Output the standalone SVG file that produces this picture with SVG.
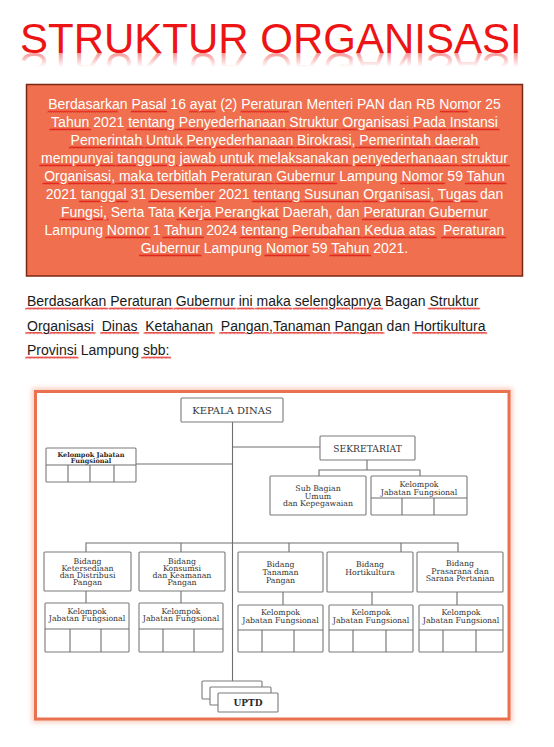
<svg xmlns="http://www.w3.org/2000/svg" width="554" height="747" viewBox="0 0 554 747">
<style>
.title{font-family:"Liberation Sans",Arial,sans-serif;font-size:42px;fill:#ec1414}
.intro{font-family:"Liberation Sans",Arial,sans-serif;font-size:14px;fill:#ffffff;text-anchor:middle}
.para{font-family:"Liberation Sans",Arial,sans-serif;font-size:14px;fill:#1a1a1a}
.sp{text-decoration:underline;fill:url(#wv1);stroke:url(#wv1);stroke-width:3.5}
.sq{text-decoration:underline;fill:url(#wv2);stroke:url(#wv2);stroke-width:3.5}
.w{fill:#ffffff;stroke:none}
.k{fill:#1a1a1a;stroke:none}
.box{fill:#ffffff;stroke:#7a7a7a;stroke-width:1.1}
.ln{fill:none;stroke:#6e6e6e;stroke-width:1.1}
.t{font-family:"DejaVu Serif","Liberation Serif",serif;font-size:7.8px;fill:#333333;text-anchor:middle}
.tb{font-family:"DejaVu Serif","Liberation Serif",serif;font-weight:bold;fill:#2a2a2a;text-anchor:middle}
.big{font-family:"DejaVu Serif","Liberation Serif",serif;fill:#333333;text-anchor:middle}
.wave{fill:none;stroke:#e0201a;stroke-width:0.9}
</style>
<defs>
<linearGradient id="refl" gradientUnits="userSpaceOnUse" x1="0" y1="39" x2="0" y2="53">
<stop offset="0" stop-color="#ec1414" stop-opacity="0"/>
<stop offset="1" stop-color="#ec1414" stop-opacity="0.45"/>
</linearGradient>
<pattern id="wv1" patternUnits="userSpaceOnUse" x="0" y="100" width="4" height="18">
<path class="wave" d="M0 12.4 L1 10.8 L2 12.4 L3 10.8 L4 12.4"/>
</pattern>
<pattern id="wv2" patternUnits="userSpaceOnUse" x="0" y="297" width="4" height="24.5">
<path class="wave" d="M0 12.4 L1 10.8 L2 12.4 L3 10.8 L4 12.4"/>
</pattern>
<filter id="glow" x="-5%" y="-5%" width="110%" height="110%">
<feGaussianBlur stdDeviation="2.5"/>
</filter>
</defs>
<rect width="554" height="747" fill="#ffffff"/>

<g id="title">
<text class="title" x="20" y="53">STRUKTUR ORGANISASI</text>
<text class="title" x="20" y="53" transform="matrix(1,0,0,-1,0,106)" style="fill:url(#refl)">STRUKTUR ORGANISASI</text>
</g>

<g id="intro-box">
<rect x="26.5" y="84.5" width="496" height="191.5" fill="#ef6f4e" stroke="#7a2814" stroke-width="1.5"/>
<text class="intro" x="274.5" y="109">Berdasarkan Pasal 16 ayat (2) Peraturan Menteri PAN dan RB Nomor 25</text>
<path class="wave" d="M47.7 112.4 l1 -1.6 1 1.6 1 -1.6 1 1.6 1 -1.6 1 1.6 1 -1.6 1 1.6 1 -1.6 1 1.6 1 -1.6 1 1.6 1 -1.6 1 1.6 1 -1.6 1 1.6 1 -1.6 1 1.6 1 -1.6 1 1.6 1 -1.6 1 1.6 1 -1.6 1 1.6 1 -1.6 1 1.6 1 -1.6 1 1.6 1 -1.6 1 1.6 1 -1.6 1 1.6 1 -1.6 1 1.6 1 -1.6 1 1.6 1 -1.6 1 1.6 1 -1.6 1 1.6 1 -1.6 1 1.6 1 -1.6 1 1.6 1 -1.6 1 1.6 1 -1.6 1 1.6 1 -1.6 1 1.6 1 -1.6 1 1.6 1 -1.6 1 1.6 1 -1.6 1 1.6 1 -1.6 1 1.6 1 -1.6 1 1.6 1 -1.6 1 1.6 1 -1.6 1 1.6 1 -1.6 1 1.6 1 -1.6 1 1.6 1 -1.6 1 1.6"/>
<path class="wave" d="M131 112.4 l1 -1.6 1 1.6 1 -1.6 1 1.6 1 -1.6 1 1.6 1 -1.6 1 1.6 1 -1.6 1 1.6 1 -1.6 1 1.6 1 -1.6 1 1.6 1 -1.6 1 1.6 1 -1.6 1 1.6 1 -1.6 1 1.6 1 -1.6 1 1.6 1 -1.6 1 1.6 1 -1.6 1 1.6 1 -1.6 1 1.6 1 -1.6 1 1.6 1 -1.6 1 1.6 1 -1.6 1 1.6 1 -1.6 1 1.6"/>
<path class="wave" d="M189.3 112.4 l1 -1.6 1 1.6 1 -1.6 1 1.6 1 -1.6 1 1.6 1 -1.6 1 1.6 1 -1.6 1 1.6 1 -1.6 1 1.6 1 -1.6 1 1.6 1 -1.6 1 1.6 1 -1.6 1 1.6 1 -1.6 1 1.6 1 -1.6 1 1.6 1 -1.6 1 1.6 1 -1.6 1 1.6"/>
<path class="wave" d="M240.7 112.4 l1 -1.6 1 1.6 1 -1.6 1 1.6 1 -1.6 1 1.6 1 -1.6 1 1.6 1 -1.6 1 1.6 1 -1.6 1 1.6 1 -1.6 1 1.6 1 -1.6 1 1.6 1 -1.6 1 1.6 1 -1.6 1 1.6 1 -1.6 1 1.6 1 -1.6 1 1.6 1 -1.6 1 1.6 1 -1.6 1 1.6 1 -1.6 1 1.6 1 -1.6 1 1.6 1 -1.6 1 1.6 1 -1.6 1 1.6 1 -1.6 1 1.6 1 -1.6 1 1.6 1 -1.6 1 1.6 1 -1.6 1 1.6 1 -1.6 1 1.6 1 -1.6 1 1.6"/>
<path class="wave" d="M439.9 112.4 l1 -1.6 1 1.6 1 -1.6 1 1.6 1 -1.6 1 1.6 1 -1.6 1 1.6 1 -1.6 1 1.6 1 -1.6 1 1.6 1 -1.6 1 1.6 1 -1.6 1 1.6 1 -1.6 1 1.6 1 -1.6 1 1.6 1 -1.6 1 1.6 1 -1.6 1 1.6 1 -1.6 1 1.6 1 -1.6 1 1.6"/>
<text class="intro" x="274.5" y="127"><tspan class="sp"><tspan class="w">Tahun</tspan></tspan> 2021 <tspan class="sp"><tspan class="w">tentang</tspan></tspan> <tspan class="sp"><tspan class="w">Penyederhanaan</tspan></tspan> <tspan class="sp"><tspan class="w">Struktur</tspan></tspan> <tspan class="sp"><tspan class="w">Organisasi</tspan></tspan> <tspan class="sp"><tspan class="w">Pada</tspan></tspan> <tspan class="sp"><tspan class="w">Instansi</tspan></tspan></text>
<text class="intro" x="274.5" y="145"><tspan class="sp"><tspan class="w">Pemerintah</tspan></tspan> <tspan class="sp"><tspan class="w">Untuk</tspan></tspan> <tspan class="sp"><tspan class="w">Penyederhanaan</tspan></tspan> <tspan class="sp"><tspan class="w">Birokrasi,</tspan></tspan> <tspan class="sp"><tspan class="w">Pemerintah</tspan></tspan> <tspan class="sp"><tspan class="w">daerah</tspan></tspan></text>
<text class="intro" x="274.5" y="163"><tspan class="sp"><tspan class="w">mempunyai</tspan></tspan> <tspan class="sp"><tspan class="w">tanggung</tspan></tspan> <tspan class="sp"><tspan class="w">jawab</tspan></tspan> <tspan class="sp"><tspan class="w">untuk</tspan></tspan> <tspan class="sp"><tspan class="w">melaksanakan</tspan></tspan> <tspan class="sp"><tspan class="w">penyederhanaan</tspan></tspan> <tspan class="sp"><tspan class="w">struktur</tspan></tspan></text>
<text class="intro" x="274.5" y="181"><tspan class="sp"><tspan class="w">Organisasi,</tspan></tspan> <tspan class="sp"><tspan class="w">maka</tspan></tspan> <tspan class="sp"><tspan class="w">terbitlah</tspan></tspan> <tspan class="sp"><tspan class="w">Peraturan</tspan></tspan> <tspan class="sp"><tspan class="w">Gubernur</tspan></tspan> Lampung <tspan class="sp"><tspan class="w">Nomor</tspan></tspan> 59 <tspan class="sp"><tspan class="w">Tahun</tspan></tspan></text>
<text class="intro" x="274.5" y="199">2021 <tspan class="sp"><tspan class="w">tanggal</tspan></tspan> 31 <tspan class="sp"><tspan class="w">Desember</tspan></tspan> 2021 <tspan class="sp"><tspan class="w">tentang</tspan></tspan> <tspan class="sp"><tspan class="w">Susunan</tspan></tspan> <tspan class="sp"><tspan class="w">Organisasi,</tspan></tspan> <tspan class="sp"><tspan class="w">Tugas</tspan></tspan> dan</text>
<text class="intro" x="274.5" y="217"><tspan class="sp"><tspan class="w">Fungsi,</tspan></tspan> Serta Tata <tspan class="sp"><tspan class="w">Kerja</tspan></tspan> <tspan class="sp"><tspan class="w">Perangkat</tspan></tspan> Daerah, dan <tspan class="sp"><tspan class="w">Peraturan</tspan></tspan> <tspan class="sp"><tspan class="w">Gubernur</tspan></tspan></text>
<text class="intro" x="274.5" y="235" xml:space="preserve">Lampung <tspan class="sp"><tspan class="w">Nomor</tspan></tspan> 1 <tspan class="sp"><tspan class="w">Tahun</tspan></tspan> 2024 <tspan class="sp"><tspan class="w">tentang</tspan></tspan> <tspan class="sp"><tspan class="w">Perubahan</tspan></tspan> <tspan class="sp"><tspan class="w">Kedua</tspan></tspan> <tspan class="sp"><tspan class="w">atas</tspan></tspan>  <tspan class="sp"><tspan class="w">Peraturan</tspan></tspan></text>
<text class="intro" x="274.5" y="253"><tspan class="sp"><tspan class="w">Gubernur</tspan></tspan> Lampung <tspan class="sp"><tspan class="w">Nomor</tspan></tspan> 59 <tspan class="sp"><tspan class="w">Tahun</tspan></tspan> 2021.</text>
</g>

<g id="paragraph">
<text class="para" x="27" y="306"><tspan class="sq"><tspan class="k">Berdasarkan</tspan></tspan> <tspan class="sq"><tspan class="k">Peraturan</tspan></tspan> <tspan class="sq"><tspan class="k">Gubernur</tspan></tspan> <tspan class="sq"><tspan class="k">ini</tspan></tspan> <tspan class="sq"><tspan class="k">maka</tspan></tspan> <tspan class="sq"><tspan class="k">selengkapnya</tspan></tspan> Bagan <tspan class="sq"><tspan class="k">Struktur</tspan></tspan></text>
<text class="para" x="27" y="330.5" xml:space="preserve"><tspan class="sq"><tspan class="k">Organisasi</tspan></tspan>  <tspan class="sq"><tspan class="k">Dinas</tspan></tspan>  <tspan class="sq"><tspan class="k">Ketahanan</tspan></tspan>  <tspan class="sq"><tspan class="k">Pangan,Tanaman</tspan></tspan> <tspan class="sq"><tspan class="k">Pangan</tspan></tspan> dan <tspan class="sq"><tspan class="k">Hortikultura</tspan></tspan></text>
<text class="para" x="27" y="355"><tspan class="sq"><tspan class="k">Provinsi</tspan></tspan> Lampung <tspan class="sq"><tspan class="k">sbb:</tspan></tspan></text>
</g>

<g id="chart-frame">
<rect x="35.5" y="391.5" width="473.5" height="327.5" fill="none" stroke="#f4a88f" stroke-width="7" opacity="0.6" filter="url(#glow)"/>
<rect x="35.5" y="391.5" width="473.5" height="327.5" fill="#ffffff" stroke="#e9714f" stroke-width="3"/>
</g>

<g id="connectors">
<path class="ln" d="M232.5 422 V681"/>
<path class="ln" d="M232.5 447 H320"/>
<path class="ln" d="M136 464 H232.5"/>
<path class="ln" d="M367 460 V470 M319 476 V470 H420 V476"/>
<path class="ln" d="M86 552 V543 H458 V552 M181 543 V552 M289 543 V552 M401 543 V552"/>
<path class="ln" d="M86 591 V603 M181 591 V603 M283 592 V605 M372 592 V605 M457 592 V605"/>
</g>

<g id="kepala-dinas">
<rect class="box" x="181" y="398" width="102" height="24" rx="1"/>
<text class="big" x="232" y="414" font-size="10">KEPALA DINAS</text>
</g>

<g id="sekretariat">
<rect class="box" x="320" y="436" width="95" height="24" rx="1"/>
<text class="big" x="367.5" y="451.5" font-size="9.2">SEKRETARIAT</text>
</g>

<g id="kjf-kepala">
<rect class="box" x="46" y="448" width="90" height="34" rx="1"/>
<path class="ln" d="M46 465 H136 M68 465 V482 M90 465 V482 M114 465 V482"/>
<text class="tb" x="91" y="456.5" font-size="6.5">Kelompok Jabatan</text>
<text class="tb" x="91" y="463" font-size="6.5">Fungsional</text>
</g>

<g id="subbag-umum">
<rect class="box" x="270" y="476" width="96" height="39" rx="1"/>
<text class="t" x="318" y="490.5">Sub Bagian</text>
<text class="t" x="318" y="498.5">Umum</text>
<text class="t" x="318" y="505.5">dan Kepegawaian</text>
</g>

<g id="kjf-sekretariat">
<rect class="box" x="371" y="476" width="96" height="39" rx="1"/>
<path class="ln" d="M371 498 H467 M402 498 V515 M434 498 V515"/>
<text class="t" x="419" y="486.5">Kelompok</text>
<text class="t" x="419" y="494.5">Jabatan Fungsional</text>
</g>

<g id="bidang-ketersediaan">
<rect class="box" x="44" y="552" width="87" height="39" rx="1"/>
<text class="t" x="87.5" y="563.5">Bidang</text>
<text class="t" x="87.5" y="570.5">Ketersediaan</text>
<text class="t" x="87.5" y="577.5">dan Distribusi</text>
<text class="t" x="87.5" y="584.5">Pangan</text>
</g>

<g id="bidang-konsumsi">
<rect class="box" x="139" y="552" width="86" height="39" rx="1"/>
<text class="t" x="182" y="563.5">Bidang</text>
<text class="t" x="182" y="570.5">Konsumsi</text>
<text class="t" x="182" y="577.5">dan Keamanan</text>
<text class="t" x="182" y="584.5">Pangan</text>
</g>

<g id="bidang-tanaman">
<rect class="box" x="238" y="552" width="85" height="40" rx="1"/>
<text class="t" x="280.5" y="567">Bidang</text>
<text class="t" x="280.5" y="575">Tanaman</text>
<text class="t" x="280.5" y="582.5">Pangan</text>
</g>

<g id="bidang-hortikultura">
<rect class="box" x="327" y="552" width="86" height="40" rx="1"/>
<text class="t" x="370" y="567">Bidang</text>
<text class="t" x="370" y="575">Hortikultura</text>
</g>

<g id="bidang-prasarana">
<rect class="box" x="417" y="552" width="86" height="40" rx="1"/>
<text class="t" x="460" y="566">Bidang</text>
<text class="t" x="460" y="573.5">Prasarana dan</text>
<text class="t" x="460" y="581">Sarana Pertanian</text>
</g>

<g id="kjf-ketersediaan">
<rect class="box" x="45" y="603" width="84" height="49" rx="1"/>
<path class="ln" d="M45 629 H129 M70 629 V652 M101 629 V652"/>
<text class="t" x="87" y="614">Kelompok</text>
<text class="t" x="87" y="621">Jabatan Fungsional</text>
</g>

<g id="kjf-konsumsi">
<rect class="box" x="139" y="603" width="84" height="49" rx="1"/>
<path class="ln" d="M139 629 H223 M163 629 V652 M194 629 V652"/>
<text class="t" x="181" y="614">Kelompok</text>
<text class="t" x="181" y="621">Jabatan Fungsional</text>
</g>

<g id="kjf-tanaman">
<rect class="box" x="238" y="605" width="85" height="47" rx="1"/>
<path class="ln" d="M238 630 H323 M262 630 V652 M294 630 V652"/>
<text class="t" x="280.5" y="615">Kelompok</text>
<text class="t" x="280.5" y="622.5">Jabatan Fungsional</text>
</g>

<g id="kjf-hortikultura">
<rect class="box" x="329" y="605" width="84" height="47" rx="1"/>
<path class="ln" d="M329 630 H413 M353 630 V652 M386 630 V652"/>
<text class="t" x="371" y="615">Kelompok</text>
<text class="t" x="371" y="622.5">Jabatan Fungsional</text>
</g>

<g id="kjf-prasarana">
<rect class="box" x="419" y="605" width="84" height="47" rx="1"/>
<path class="ln" d="M419 630 H503 M443 630 V652 M476 630 V652"/>
<text class="t" x="461" y="615">Kelompok</text>
<text class="t" x="461" y="622.5">Jabatan Fungsional</text>
</g>

<g id="uptd">
<rect class="box" x="202" y="681" width="60" height="18" rx="1"/>
<rect class="box" x="210" y="687" width="61" height="18" rx="1"/>
<rect class="box" x="218" y="693" width="60" height="19" rx="1"/>
<text class="tb" x="248" y="705.5" font-size="9">UPTD</text>
</g>
</svg>
